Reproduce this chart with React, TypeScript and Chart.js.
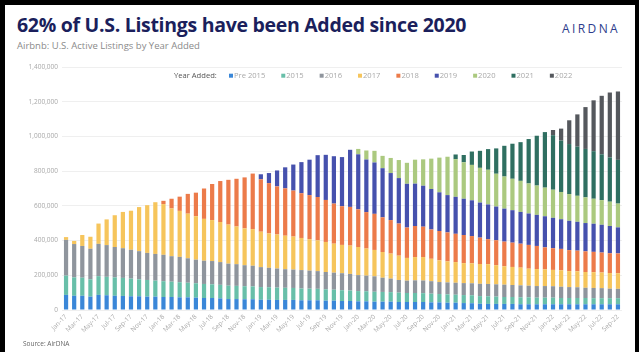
import React, { useEffect, useRef } from "react";
import { Chart, registerables } from "chart.js";

Chart.register(...registerables);

const months: string[] = [
  "Jan-17","Feb-17","Mar-17","Apr-17","May-17","Jun-17","Jul-17","Aug-17","Sep-17","Oct-17","Nov-17","Dec-17",
  "Jan-18","Feb-18","Mar-18","Apr-18","May-18","Jun-18","Jul-18","Aug-18","Sep-18","Oct-18","Nov-18","Dec-18",
  "Jan-19","Feb-19","Mar-19","Apr-19","May-19","Jun-19","Jul-19","Aug-19","Sep-19","Oct-19","Nov-19","Dec-19",
  "Jan-20","Feb-20","Mar-20","Apr-20","May-20","Jun-20","Jul-20","Aug-20","Sep-20","Oct-20","Nov-20","Dec-20",
  "Jan-21","Feb-21","Mar-21","Apr-21","May-21","Jun-21","Jul-21","Aug-21","Sep-21","Oct-21","Nov-21","Dec-21",
  "Jan-22","Feb-22","Mar-22","Apr-22","May-22","Jun-22","Jul-22","Aug-22","Sep-22",
];

const pre2015: number[] = [
  87000,82000,82000,77000,87000,85000,82000,81000,79000,79000,77000,77000,
  75000,75000,73000,73000,71000,69000,69000,67000,63000,63000,62000,62000,
  59000,59000,58000,58000,58000,56000,56000,56000,54000,54000,52000,52000,
  50000,50000,48000,48000,48000,46000,46000,46000,46000,44000,44000,42000,
  42000,40000,39000,36000,35000,35000,35000,35000,33000,33000,33000,33000,
  33000,33000,33000,33000,33000,33000,33000,33000,33000,
];
const y2015: number[] = [
  111000,106000,104000,100000,108000,106000,106000,104000,102000,98000,96000,92000,
  91000,88000,87000,84000,83000,81000,79000,78000,77000,76000,75000,74000,
  73000,72000,71000,70000,69000,68000,67000,66000,65000,63000,62000,60000,
  59000,58000,57000,56000,55000,54000,52000,52000,51000,50000,48000,48000,
  46000,46000,46000,44000,44000,42000,40000,40000,40000,40000,38000,38000,
  38000,36000,36000,36000,36000,35000,35000,35000,35000,
];
const y2016: number[] = [
  206000,192000,183000,176000,186000,183000,175000,171000,166000,162000,156000,154000,
  152000,147000,146000,141000,136000,134000,134000,131000,127000,125000,121000,119000,
  115000,112000,110000,107000,106000,106000,104000,102000,100000,98000,98000,96000,
  92000,90000,89000,82000,78000,73000,71000,73000,73000,72000,69000,69000,
  69000,69000,69000,71000,71000,71000,71000,69000,69000,67000,67000,67000,
  66000,65000,63000,62000,59000,59000,58000,55000,54000,
];
const y2017: number[] = [
  16000,18000,63000,69000,117000,148000,183000,209000,225000,254000,275000,298000,
  292000,275000,265000,257000,250000,241000,236000,231000,225000,217000,212000,211000,
  204000,198000,196000,193000,190000,185000,181000,177000,173000,167000,163000,163000,
  162000,156000,152000,148000,144000,140000,131000,134000,135000,129000,125000,121000,
  119000,115000,115000,114000,114000,110000,106000,104000,102000,98000,98000,96000,
  94000,95000,92000,92000,91000,91000,90000,90000,90000,
];
const y2018: number[] = [
  0,0,0,0,0,0,0,0,0,0,0,0,
  19000,56000,82000,114000,136000,175000,208000,236000,258000,275000,294000,320000,
  302000,290000,277000,273000,265000,258000,254000,250000,242000,231000,223000,223000,
  217000,210000,208000,200000,193000,185000,175000,179000,175000,169000,169000,167000,
  163000,162000,157000,152000,144000,144000,142000,140000,138000,137000,133000,127000,
  125000,123000,121000,119000,119000,117000,115000,114000,114000,
];
const y2019: number[] = [
  0,0,0,0,0,0,0,0,0,0,0,0,
  0,0,0,0,0,0,0,0,0,0,0,0,
  29000,58000,92000,121000,150000,179000,204000,241000,260000,273000,283000,329000,
  317000,303000,296000,283000,271000,262000,252000,244000,236000,233000,223000,215000,
  213000,209000,206000,202000,200000,194000,190000,187000,183000,181000,179000,179000,
  175000,171000,169000,166000,163000,162000,160000,157000,150000,
];
const y2020: number[] = [
  0,0,0,0,0,0,0,0,0,0,0,0,
  0,0,0,0,0,0,0,0,0,0,0,0,
  0,0,0,0,0,0,0,0,0,0,0,0,
  31000,52000,67000,71000,87000,104000,121000,138000,152000,175000,200000,221000,
  217000,210000,204000,200000,200000,189000,185000,181000,179000,173000,169000,165000,
  162000,157000,154000,150000,148000,144000,142000,140000,137000,
];
const y2021: number[] = [
  0,0,0,0,0,0,0,0,0,0,0,0,
  0,0,0,0,0,0,0,0,0,0,0,0,
  0,0,0,0,0,0,0,0,0,0,0,0,
  0,0,0,0,0,0,0,0,0,0,0,0,
  27000,42000,77000,98000,119000,146000,177000,202000,223000,256000,287000,320000,
  314000,296000,288000,283000,279000,274000,264000,255000,252000,
];
const y2022: number[] = [
  0,0,0,0,0,0,0,0,0,0,0,0,
  0,0,0,0,0,0,0,0,0,0,0,0,
  0,0,0,0,0,0,0,0,0,0,0,0,
  0,0,0,0,0,0,0,0,0,0,0,0,
  0,0,0,0,0,0,0,0,0,0,0,0,
  30000,69000,137000,186000,241000,293000,337000,374000,394000,
];

const seriesLabels: string[] = ["Pre 2015","2015","2016","2017","2018","2019","2020","2021","2022"];
const seriesColors: string[] = ["#3a87d8","#68bfa9","#8f959d","#f6c55c","#ec7b4a","#4651ad","#abc97f","#2f6f61","#55585d"];
const seriesData: number[][] = [pre2015, y2015, y2016, y2017, y2018, y2019, y2020, y2021, y2022];

const FONT = '"Open Sans", "Noto Sans", sans-serif';

const legendPlugin = {
  id: "yearLegend",
  afterDraw(chart: any) {
    const ctx = chart.ctx as CanvasRenderingContext2D;
    ctx.save();
    const y = 20.7;
    ctx.font = `7.6px ${FONT}`;
    ctx.textBaseline = "middle";
    ctx.textAlign = "left";
    ctx.fillStyle = "#555";
    ctx.fillText("Year Added:", 174, y);
    let x = 229;
    chart.data.datasets.forEach((ds: any) => {
      ctx.fillStyle = ds.backgroundColor;
      ctx.fillRect(x, y - 2, 4, 4);
      ctx.fillStyle = "#a9a9a9";
      ctx.fillText(ds.label, x + 5, y);
      x += 5 + ctx.measureText(ds.label).width + 16;
    });
    ctx.restore();
  },
};

export default function App() {
  const ref = useRef<HTMLCanvasElement | null>(null);

  useEffect(() => {
    document.body.style.margin = "0";
    document.body.style.background = "#000";
    if (!ref.current) return;
    const chart = new Chart(ref.current, {
      type: "bar",
      data: {
        labels: months,
        datasets: seriesLabels.map((label, i) => ({
          label,
          data: seriesData[i],
          backgroundColor: seriesColors[i],
          borderWidth: 0,
          categoryPercentage: 0.52,
          barPercentage: 1,
        })),
      },
      options: {
        animation: false,
        responsive: true,
        maintainAspectRatio: false,
        layout: { padding: { left: 5, right: 17, top: 12, bottom: 0 } },
        plugins: {
          legend: { display: false },
          tooltip: { enabled: false },
        },
        scales: {
          x: {
            stacked: true,
            grid: { display: false, drawTicks: false },
            border: { display: false },
            ticks: {
              autoSkip: false,
              minRotation: 45,
              maxRotation: 45,
              padding: 3,
              color: "#a8a8a8",
              font: { family: FONT, size: 6.5 },
              callback: (_v: any, idx: number) => (idx % 2 === 0 ? months[idx] : ""),
            },
            afterFit: (s: any) => { s.height = 42; },
          },
          y: {
            stacked: true,
            min: 0,
            max: 1400000,
            grid: { color: "#efefef", drawTicks: false },
            border: { display: false },
            ticks: {
              stepSize: 200000,
              padding: 4,
              color: "#a8a8a8",
              font: { family: FONT, size: 6.5 },
              callback: (v: any) => Number(v).toLocaleString("en-US"),
            },
            afterFit: (s: any) => { s.width = 57; },
          },
        },
      },
      plugins: [legendPlugin],
    });
    return () => chart.destroy();
  }, []);

  return (
    <div style={{ position: "relative", width: 639, height: 352, background: "#000", overflow: "hidden" }}>
      <div style={{ position: "absolute", left: 5, top: 5, width: 630, height: 347, background: "#fff" }} />
      <div style={{ position: "absolute", left: 17, top: 11, fontFamily: FONT, fontWeight: 700, fontSize: 19.5, color: "#1b1f5c", whiteSpace: "nowrap", letterSpacing: -0.3 }}>
        62% of U.S. Listings have been Added since 2020
      </div>
      <div style={{ position: "absolute", left: 17, top: 39, fontFamily: FONT, fontSize: 9.5, color: "#8a8a8a", whiteSpace: "nowrap" }}>
        Airbnb: U.S. Active Listings by Year Added
      </div>
      <div style={{ position: "absolute", left: 562, top: 20, fontFamily: FONT, fontSize: 12, color: "#2d3c8c", letterSpacing: 2.4, whiteSpace: "nowrap" }}>
        AIRDNA
      </div>
      <div style={{ position: "absolute", left: 0, top: 55, width: 639, height: 297 }}>
        <canvas ref={ref} />
      </div>
      <div style={{ position: "absolute", left: 23, top: 339, fontFamily: FONT, fontSize: 6.5, color: "#666", whiteSpace: "nowrap" }}>
        Source: AirDNA
      </div>
    </div>
  );
}
